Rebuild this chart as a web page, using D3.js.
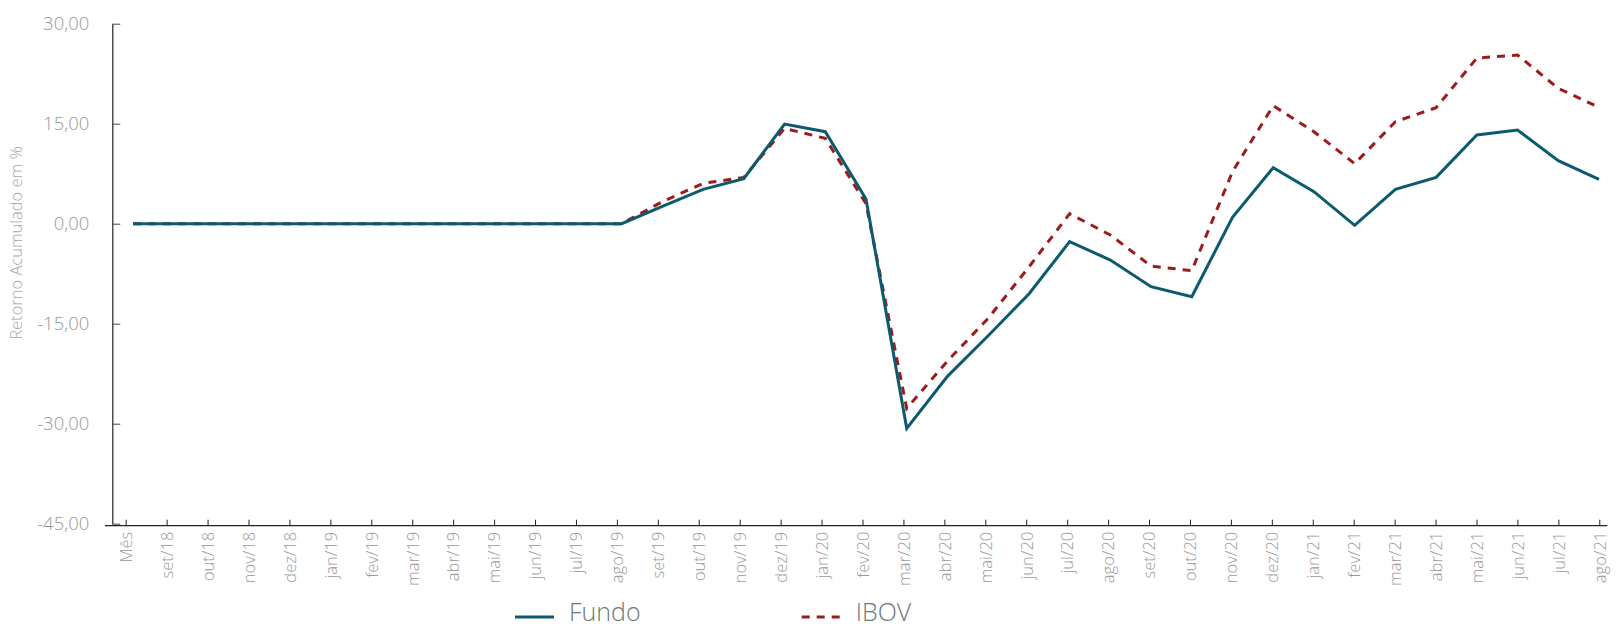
<!DOCTYPE html>
<html>
<head>
<meta charset="utf-8">
<script src="https://cdn.jsdelivr.net/npm/d3@7"></script>
<style>
  body { margin: 0; background: #fff; }
  svg { display: block; font-family: "Open Sans", sans-serif; font-weight: 300; }
</style>
</head>
<body>
<div id="chart"></div>
<script>
// months on the category axis
var categories = ["Mês", "set/18", "out/18", "nov/18", "dez/18", "jan/19", "fev/19", "mar/19",
  "abr/19", "mai/19", "jun/19", "jul/19", "ago/19", "set/19", "out/19", "nov/19", "dez/19",
  "jan/20", "fev/20", "mar/20", "abr/20", "mai/20", "jun/20", "jul/20", "ago/20", "set/20",
  "out/20", "nov/20", "dez/20", "jan/21", "fev/21", "mar/21", "abr/21", "mai/21", "jun/21",
  "jul/21", "ago/21"];

// accumulated return (%)
var fundo = [0, 0, 0, 0, 0, 0, 0, 0, 0, 0, 0, 0, 0,
  2.6, 5.15, 6.75, 14.95, 13.8, 3.7, -30.7, -22.9, -16.8, -10.55, -2.7, -5.45, -9.45,
  -10.95, 0.95, 8.4, 4.8, -0.25, 5.15, 6.95, 13.3, 14.05, 9.45, 6.65];
var ibov = [0, 0, 0, 0, 0, 0, 0, 0, 0, 0, 0, 0, 0,
  3.3, 6.05, 6.95, 14.3, 12.8, 3.0, -27.7, -20.6, -14.2, -6.5, 1.5, -1.7, -6.35,
  -7.05, 7.8, 17.7, 13.8, 9.0, 15.3, 17.4, 24.85, 25.3, 20.3, 17.45];

var yTicks = [30, 15, 0, -15, -30, -45];
var seriesNames = ["Fundo", "IBOV"];

var width = 1620, height = 629;
var tealColor = "#0b5a6f", redColor = "#9e1b1b";

var ptBR = d3.formatLocale({decimal: ",", thousands: ".", grouping: [3], currency: ["R$", ""], minus: "-"});
var fmt = ptBR.format(".2f");

var svg = d3.select("#chart").append("svg")
    .attr("width", width)
    .attr("height", height);

// axis ticks and the line points sit a few px apart in the original
var x = d3.scalePoint().domain(categories).range([125.7, 1599.3]);
var xLine = d3.scalePoint().domain(categories).range([133, 1599]);
var y = d3.scaleLinear().domain([-45, 30]).range([523.7, 23.7]);

var axisY = 525.7, axisX = 112.3;

// y axis
var yAxis = svg.append("g")
    .attr("transform", "translate(" + axisX + ",0)")
    .call(d3.axisLeft(y).tickValues(yTicks).tickFormat(fmt).tickSize(-8).tickSizeOuter(0).tickPadding(23));
yAxis.select(".domain").attr("stroke", "#222").attr("stroke-width", 1.2);
yAxis.selectAll(".tick line").attr("stroke", "#444");
yAxis.selectAll(".tick text")
    .attr("fill", "#999")
    .style("font-size", "18.5px")
    .style("font-family", "'Open Sans', sans-serif")
    .style("font-weight", 300);

// x axis
var xAxis = svg.append("g")
    .attr("transform", "translate(0," + axisY + ")")
    .call(d3.axisBottom(x).tickSize(-6).tickSizeOuter(0));
xAxis.select(".domain").remove();
xAxis.append("line")
    .attr("x1", 105).attr("x2", 1607.3)
    .attr("stroke", "#222").attr("stroke-width", 1.2);
xAxis.selectAll(".tick line").attr("stroke", "#222");
xAxis.selectAll(".tick text")
    .attr("transform", "rotate(-90)")
    .attr("x", -6)
    .attr("y", 0)
    .attr("dy", "0.35em")
    .attr("text-anchor", "end")
    .attr("fill", "#999")
    .style("font-size", "16.5px")
    .style("font-family", "'Open Sans', sans-serif")
    .style("font-weight", 300);

// y axis title
svg.append("text")
    .attr("transform", "translate(16,243) rotate(-90)")
    .attr("text-anchor", "middle")
    .attr("dy", "0.35em")
    .attr("fill", "#a6a6a6")
    .style("font-size", "16.5px")
    .text("Retorno Acumulado em %");

var line = d3.line()
    .x(function (d, i) { return xLine(categories[i]); })
    .y(function (d) { return y(d); });

svg.append("path")
    .datum(ibov)
    .attr("d", line)
    .attr("fill", "none")
    .attr("stroke", redColor)
    .attr("stroke-width", 3)
    .attr("stroke-dasharray", "8,7");

svg.append("path")
    .datum(fundo)
    .attr("d", line)
    .attr("fill", "none")
    .attr("stroke", tealColor)
    .attr("stroke-width", 3)
    .attr("stroke-linejoin", "miter");

// legend
var legend = svg.append("g");
var legendItems = [
  {name: seriesNames[0], color: tealColor, dash: null, x0: 515},
  {name: seriesNames[1], color: redColor, dash: "8,7", x0: 801.7}
];
legendItems.forEach(function (it) {
  legend.append("line")
      .attr("x1", it.x0).attr("x2", it.x0 + 39)
      .attr("y1", 617).attr("y2", 617)
      .attr("stroke", it.color)
      .attr("stroke-width", 3)
      .attr("stroke-dasharray", it.dash);
  legend.append("text")
      .attr("x", it.x0 + 54)
      .attr("y", 621)
      .attr("fill", "#6e7878")
      .style("font-size", "25px")
      .style("font-weight", 300)
      .text(it.name);
});
</script>
</body>
</html>
